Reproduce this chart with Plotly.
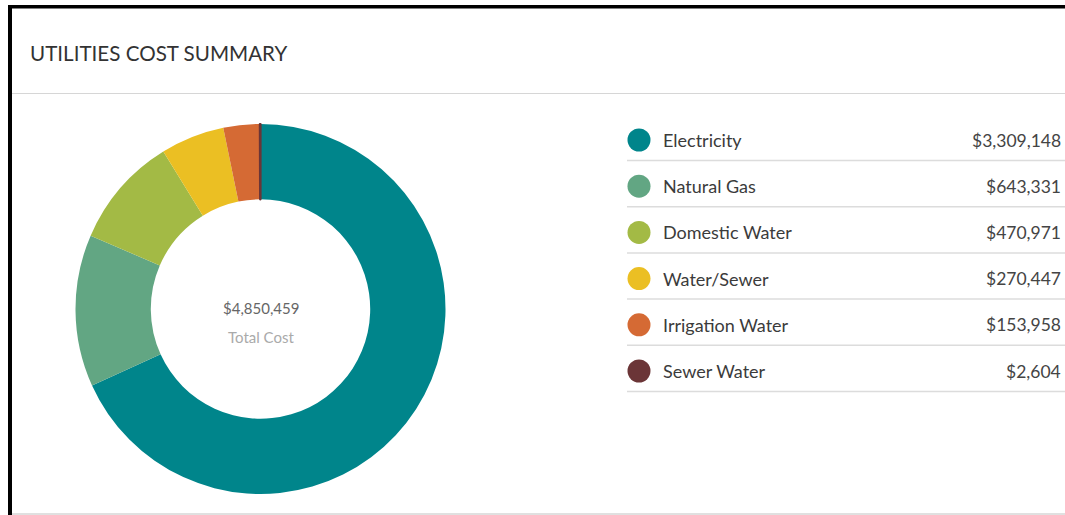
import plotly.graph_objects as go

# ---- data ----
categories = ["Electricity", "Natural Gas", "Domestic Water", "Water/Sewer", "Irrigation Water", "Sewer Water"]
costs = [3309148, 643331, 470971, 270447, 153958, 2604]
colors = ["#00858B", "#62A683", "#A3BA45", "#EBBF23", "#D56A34", "#6B3537"]
title_text = "UTILITIES COST SUMMARY"
center_caption = "Total Cost"

W, H = 1065, 515
FONT = "Lato, 'Open Sans', sans-serif"


def px_x(x):
    return x / W


def px_y(y):
    return 1 - y / H


total = sum(costs)
n = len(categories)

fig = go.Figure()

# donut (the tiny last slice gets a thin same-coloured outline so it stays visible)
line_w = [0] * (n - 1) + [2.2]
fig.add_trace(go.Pie(
    labels=categories,
    values=costs,
    marker=dict(colors=colors, line=dict(width=line_w, color=colors)),
    hole=0.593,
    sort=False,
    direction="clockwise",
    rotation=0,
    textinfo="none",
    hoverinfo="label+value",
    showlegend=False,
    domain=dict(x=[px_x(75.5), px_x(445.5)], y=[px_y(494), px_y(124)]),
))

# legend dots (categorical y axis)
fig.add_trace(go.Scatter(
    x=[639] * n,
    y=categories,
    mode="markers",
    marker=dict(size=23, color=colors, line=dict(width=0)),
    hoverinfo="skip",
    showlegend=False,
    cliponaxis=False,
))

row_h = 46.2
top_c = 140
dom_top = top_c - row_h / 2
dom_bot = top_c + row_h * (n - 0.5)

fig.update_layout(
    width=W, height=H,
    margin=dict(l=0, r=0, t=0, b=0),
    paper_bgcolor="white", plot_bgcolor="rgba(0,0,0,0)",
    font=dict(family=FONT),
    xaxis=dict(range=[0, W], domain=[0, 1], visible=False, fixedrange=True),
    yaxis=dict(type="category", categoryorder="array", categoryarray=categories,
               range=[n - 0.5, -0.5], domain=[px_y(dom_bot), px_y(dom_top)],
               visible=False, fixedrange=True),
)

annotations = []
shapes = []
for i, (cat, val) in enumerate(zip(categories, costs)):
    annotations.append(dict(x=661, y=cat, xref="x", yref="y", text=cat, showarrow=False,
                            xanchor="left", yanchor="middle",
                            font=dict(size=18, color="#3b3b3b", family=FONT)))
    annotations.append(dict(x=px_x(1063), y=cat, xref="paper", yref="y", text=f"${val:,}",
                            showarrow=False, xanchor="right", yanchor="middle",
                            font=dict(size=17.5, color="#444444", family=FONT)))
    yl = i + 20.5 / row_h
    shapes.append(dict(type="line", xref="x", yref="y", x0=627, x1=W + 5, y0=yl, y1=yl,
                       line=dict(color="#dcdcdc", width=1.5)))

# title
annotations.append(dict(x=px_x(28), y=px_y(53), xref="paper", yref="paper", text=title_text,
                        showarrow=False, xanchor="left", yanchor="middle",
                        font=dict(size=20.6, color="#333333", family=FONT)))
# center texts
annotations.append(dict(x=px_x(260.5), y=px_y(308), xref="paper", yref="paper", text=f"${total:,}",
                        showarrow=False, xanchor="center", yanchor="middle",
                        font=dict(size=15, color="#666666", family=FONT)))
annotations.append(dict(x=px_x(260.5), y=px_y(337), xref="paper", yref="paper", text=center_caption,
                        showarrow=False, xanchor="center", yanchor="middle",
                        font=dict(size=15, color="#aaaaaa", family=FONT)))

# frame: black top/left border, grey header and bottom separators
shapes += [
    dict(type="rect", xref="paper", yref="paper", x0=px_x(8), x1=px_x(12), y0=0, y1=px_y(5),
         fillcolor="black", line=dict(width=0), layer="above"),
    dict(type="rect", xref="paper", yref="paper", x0=px_x(8), x1=1, y0=px_y(8.5), y1=px_y(5),
         fillcolor="black", line=dict(width=0), layer="above"),
    dict(type="line", xref="paper", yref="paper", x0=px_x(12), x1=1, y0=px_y(93.5), y1=px_y(93.5),
         line=dict(color="#d6d6d6", width=1.2)),
    dict(type="line", xref="paper", yref="paper", x0=px_x(12), x1=1, y0=px_y(514), y1=px_y(514),
         line=dict(color="#d6d6d6", width=1.5)),
]

fig.update_layout(annotations=annotations, shapes=shapes)

fig.write_html("out.html", config=dict(displayModeBar=False),
               post_script="document.body.style.margin='0';document.body.style.overflow='hidden';")
